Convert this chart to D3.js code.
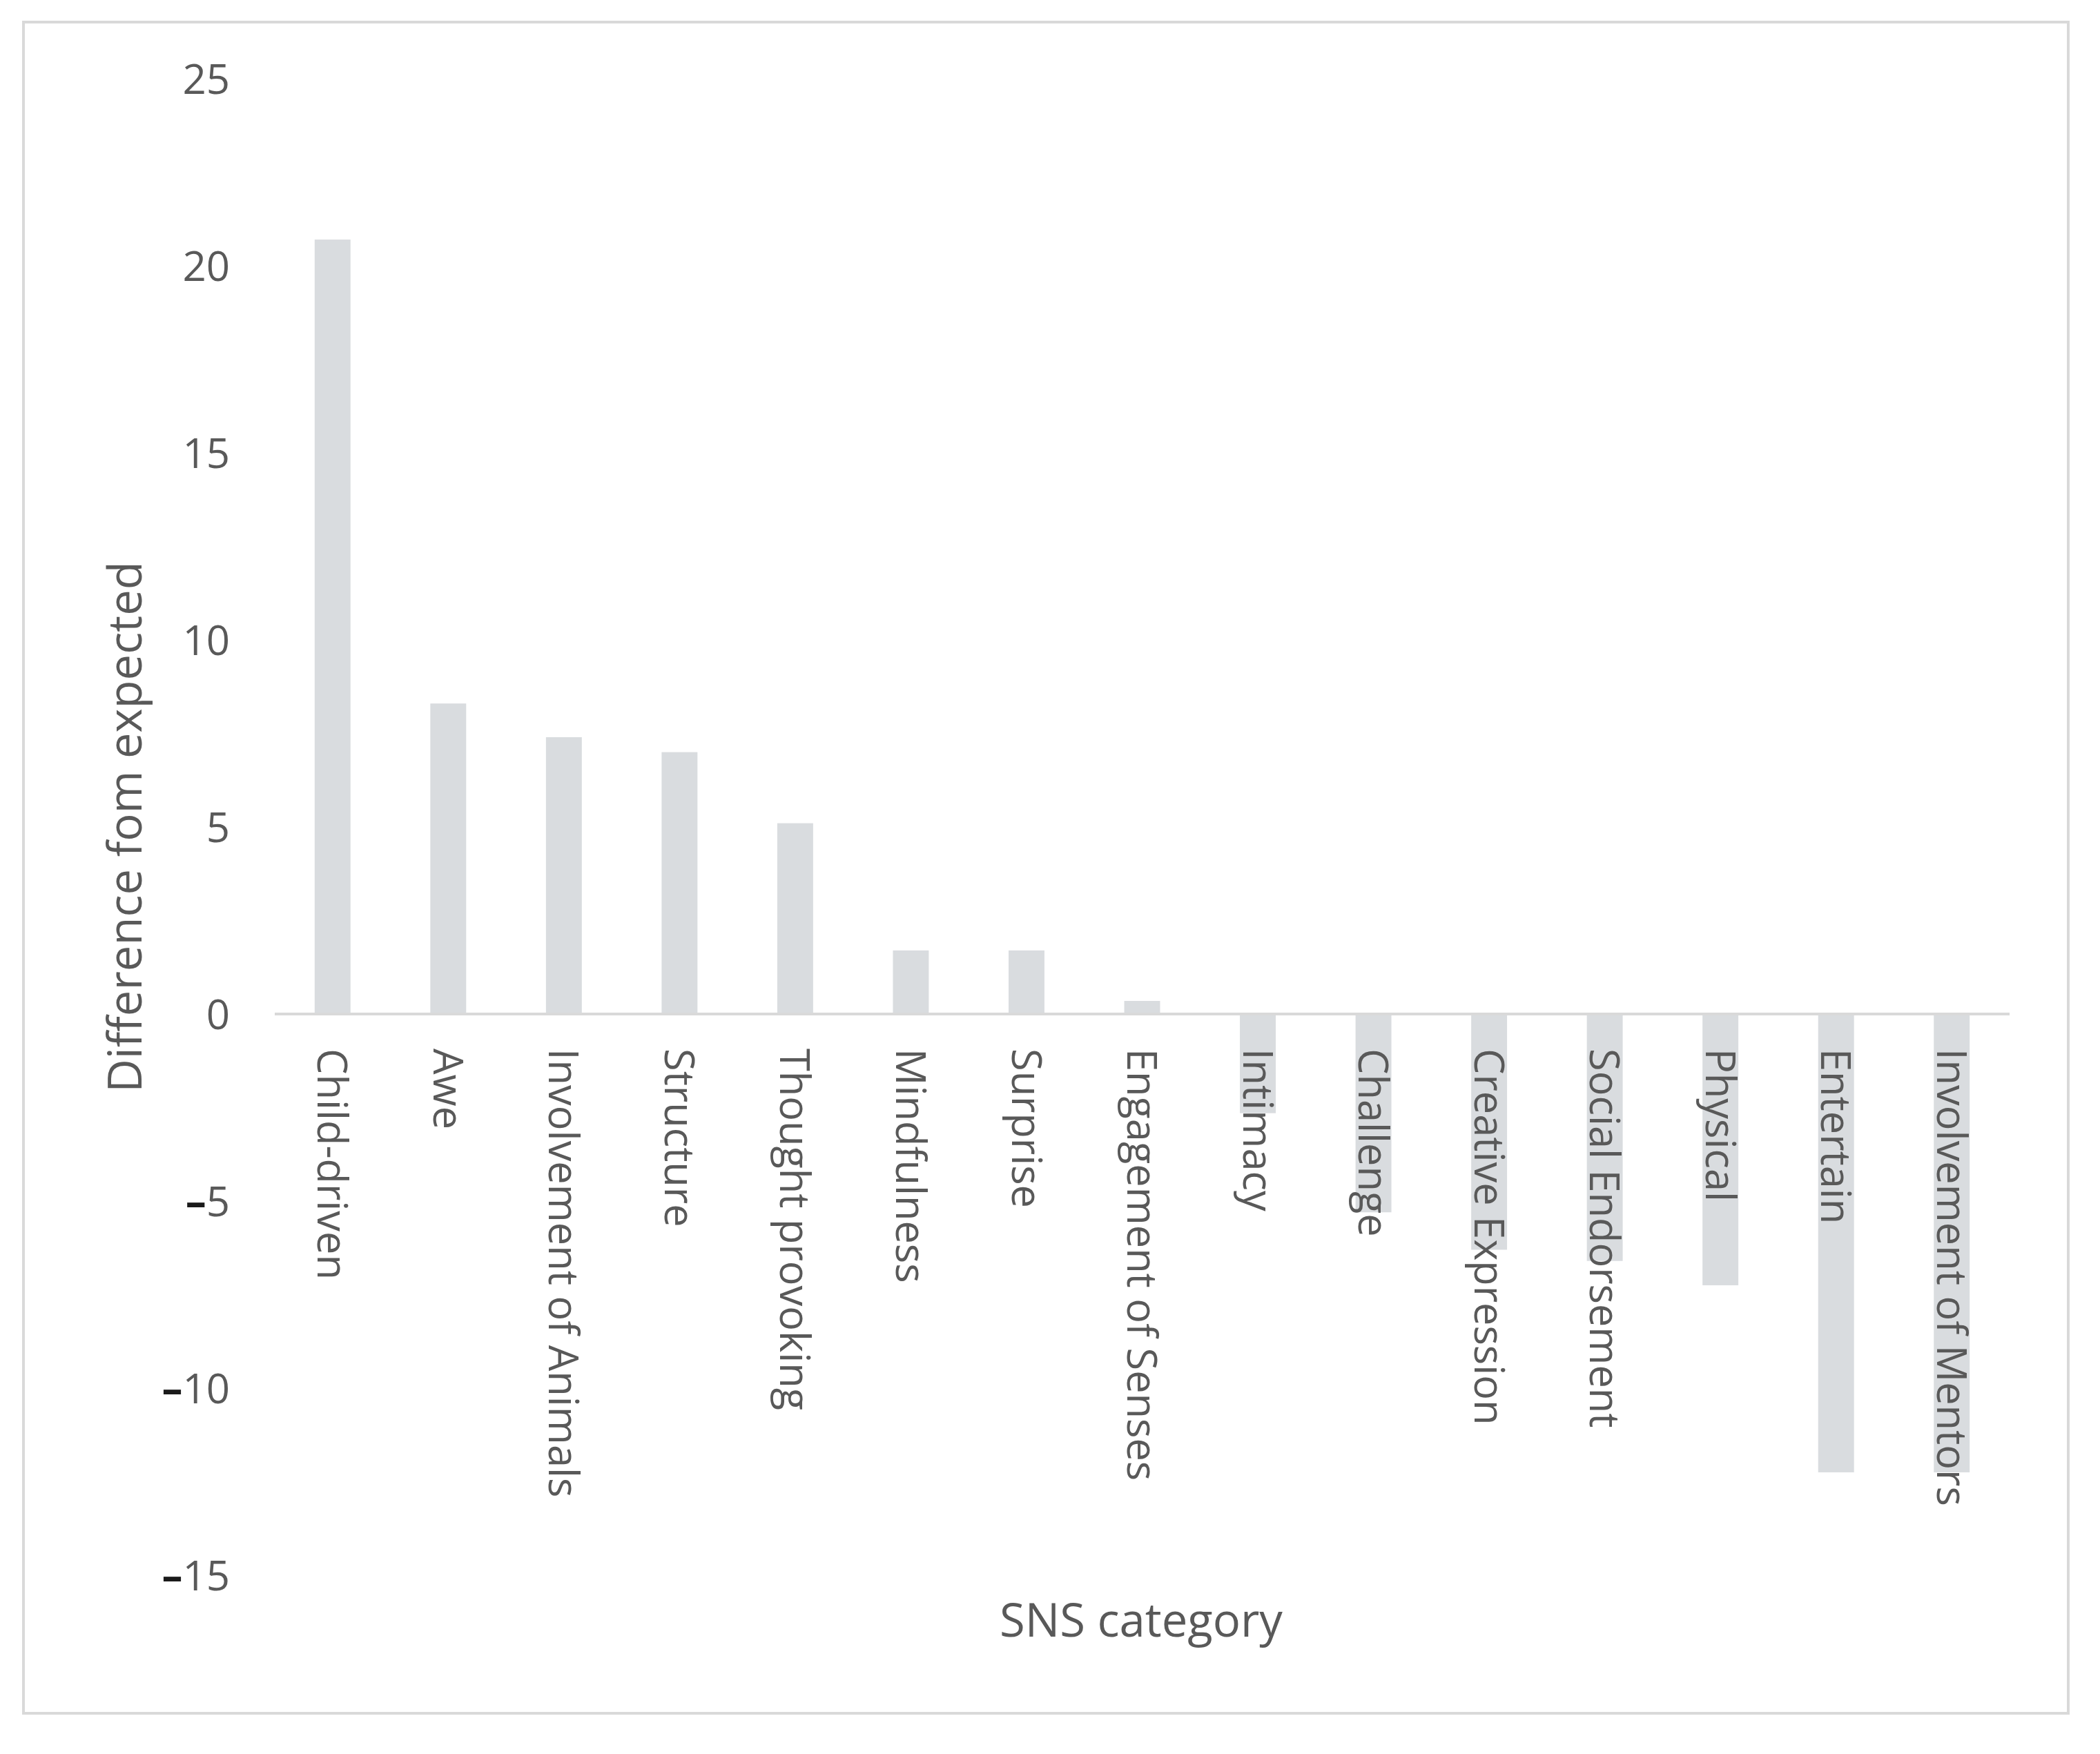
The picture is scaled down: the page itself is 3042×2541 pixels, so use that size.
<!DOCTYPE html>
<html>
<head>
<meta charset="utf-8">
<script src="https://cdn.jsdelivr.net/npm/d3@7"></script>
<style>
  html, body { margin: 0; padding: 0; background: #ffffff; }
  svg { display: block; }
  text { font-family: "Open Sans", "Noto Sans", sans-serif; fill: #595959; }
</style>
</head>
<body>
<script>
const categories = ["Child-driven", "Awe", "Involvement of Animals", "Structure", "Thought provoking",
  "Mindfulness", "Surprise", "Engagement of Senses", "Intimacy", "Challenge", "Creative Expression",
  "Social Endorsement", "Physical", "Entertain", "Involvement of Mentors"];
const values = [20.7, 8.3, 7.4, 7.0, 5.1, 1.7, 1.7, 0.35, -2.65, -5.3, -6.3, -6.6, -7.25, -12.25, -12.25];
const yTicks = [25, 20, 15, 10, 5, 0, -5, -10, -15];
const yTitle = "Difference fom expected";
const xTitle = "SNS category";

const W = 3042, H = 2541;
const svg = d3.select("body").append("svg").attr("width", W).attr("height", H);

svg.append("rect").attr("width", W).attr("height", H).attr("fill", "#ffffff");
// chart area border
svg.append("rect").attr("x", 34).attr("y", 32).attr("width", 2962).attr("height", 2450)
  .attr("fill", "none").attr("stroke", "#d9d9d9").attr("stroke-width", 4);

const x = d3.scaleBand().domain(categories).range([398, 2911]).paddingInner(0.69).paddingOuter(0.345);
const y = d3.scaleLinear().domain([-15, 25]).range([2282, 114]);

// bars
svg.append("g").selectAll("rect").data(categories).join("rect")
  .attr("x", d => x(d))
  .attr("width", x.bandwidth())
  .attr("y", (d, i) => y(Math.max(0, values[i])))
  .attr("height", (d, i) => Math.abs(y(values[i]) - y(0)))
  .attr("fill", "#d9dcdf");

// zero line
svg.append("line").attr("x1", 398).attr("x2", 2911).attr("y1", y(0)).attr("y2", y(0))
  .attr("stroke", "#d9d9d9").attr("stroke-width", 4);

// y axis
const yAxis = svg.append("g").attr("transform", "translate(333,0)")
  .call(d3.axisLeft(y).tickValues(yTicks).tickSize(0).tickPadding(0).tickFormat(d => d));
yAxis.select(".domain").remove();
yAxis.selectAll("text")
  .attr("font-size", 60).attr("font-family", "'Open Sans', sans-serif").attr("fill", "#595959")
  .attr("dy", "0.36em")
  .each(function(d) {
    const t = d3.select(this);
    t.text(null);
    if (d < 0) {
      t.append("tspan").attr("fill", "#1a1a1a").attr("font-weight", "bold").text("–");
      t.append("tspan").text(Math.abs(d));
    } else {
      t.append("tspan").text(d);
    }
  });

// category labels (rotated)
svg.append("g").selectAll("text").data(categories).join("text")
  .attr("transform", d => `translate(${x(d) + x.bandwidth() / 2},1519) rotate(90)`)
  .attr("dy", "0.36em")
  .attr("text-anchor", "start")
  .attr("font-size", 59.5)
  .text(d => d);

// axis titles
svg.append("text")
  .attr("transform", "translate(205,1198) rotate(-90)")
  .attr("text-anchor", "middle")
  .attr("font-size", 67)
  .text(yTitle);

svg.append("text")
  .attr("x", 1653).attr("y", 2371)
  .attr("text-anchor", "middle")
  .attr("font-size", 67)
  .text(xTitle);
</script>
</body>
</html>
